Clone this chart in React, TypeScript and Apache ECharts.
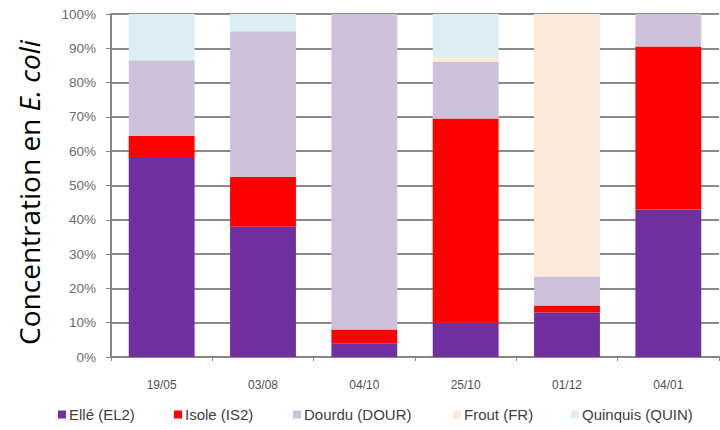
import React, { useEffect, useRef } from "react";
import * as echarts from "echarts";

const categories = ["19/05", "03/08", "04/10", "25/10", "01/12", "04/01"];
const seriesNames = ["Ellé (EL2)", "Isole (IS2)", "Dourdu (DOUR)", "Frout (FR)", "Quinquis (QUIN)"];
const elle = [58, 38, 4, 10, 13, 43];
const isole = [6.5, 14.5, 4, 59.5, 2, 47.5];
const dourdu = [22, 42.5, 92, 16.5, 8.5, 9.5];
const frout = [0, 0, 0, 1.5, 76.5, 0];
const quinquis = [13.5, 5, 0, 12.5, 0, 0];
const colors = ["#7030A0", "#FF0000", "#CCC0DA", "#FDE9D9", "#DAEEF3"];
const legendLeft = [56, 172, 291, 451, 569];

export default function App() {
  const ref = useRef<HTMLDivElement>(null);
  useEffect(() => {
    const chart = echarts.init(ref.current!, undefined, { renderer: "svg" });
    const data = [elle, isole, dourdu, frout, quinquis];
    chart.setOption({
      animation: false,
      backgroundColor: "#ffffff",
      grid: { left: 111, right: 1, top: 14, bottom: 73 },
      legend: seriesNames.map((n, i) => ({
        top: 405,
        left: legendLeft[i],
        padding: 2,
        itemWidth: 8,
        itemHeight: 8,
        icon: "rect",
        textStyle: { fontFamily: "Liberation Sans, Arial", fontSize: 15, color: "#404040", padding: [0, 0, 0, -2] },
        data: [n],
      })),
      xAxis: {
        type: "category",
        data: categories,
        axisLine: { lineStyle: { color: "#868686", width: 2 } },
        axisTick: { show: true, length: 4, lineStyle: { color: "#868686", width: 1 } },
        axisLabel: { fontFamily: "Liberation Sans, Arial", fontSize: 12, color: "#505050", margin: 22 },
      },
      yAxis: {
        type: "value",
        min: 0,
        max: 100,
        interval: 10,
        name: "{a|Concentration en }{b|E. coli}",
        nameLocation: "middle",
        nameGap: 68,
        nameTextStyle: {
          padding: [0, 14, 0, 0],
          rich: {
            a: { fontFamily: "Open Sans", fontSize: 28, color: "#000" },
            b: { fontFamily: "Open Sans", fontSize: 28, color: "#000", fontStyle: "italic" },
          },
        },
        axisLine: { show: true, lineStyle: { color: "#868686", width: 2 } },
        axisTick: { show: true, length: 5, lineStyle: { color: "#868686", width: 1 } },
        splitLine: { lineStyle: { color: "#8a8a8a", width: 2 } },
        axisLabel: {
          formatter: "{value}%",
          fontFamily: "Liberation Sans, Arial",
          fontSize: 13.5,
          color: "#6a6a6a",
          margin: 15,
        },
      },
      series: seriesNames.map((n, i) => ({
        name: n,
        type: "bar",
        stack: "total",
        barCategoryGap: "35%",
        itemStyle: { color: colors[i] },
        data: data[i],
      })),
    });
    return () => chart.dispose();
  }, []);
  return <div ref={ref} style={{ width: 720, height: 430, position: "fixed", left: 0, top: 0 }} />;
}
